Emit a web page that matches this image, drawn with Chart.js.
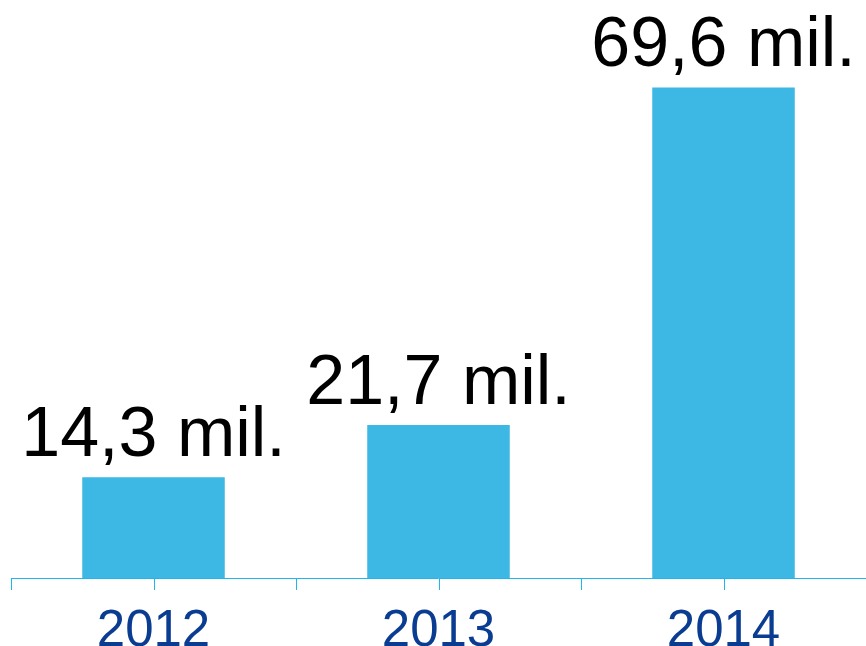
<!DOCTYPE html>
<html>
<head>
<meta charset="utf-8">
<style>
  html, body { margin: 0; padding: 0; background: #fff; }
  #wrap { width: 866px; height: 646px; }
</style>
<script src="https://cdn.jsdelivr.net/npm/chart.js@4"></script>
</head>
<body>
<div id="wrap"><canvas id="grafica" width="866" height="646"></canvas></div>
<script>
// datos
const anios = ['2012', '2013', '2014'];
const valores = [14.3, 21.7, 69.6];
const etiquetas = ['14,3 mil.', '21,7 mil.', '69,6 mil.'];

const AZUL_BARRA = '#3db7e4';
const AZUL_EJE = '#22b4ec';
const FUENTE = "'Liberation Sans', Arial, sans-serif";

// etiquetas encima de cada barra + marcas del eje (limites y centros)
const pluginEtiquetas = {
    id: 'etiquetas',
    afterDatasetsDraw(chart) {
        const ctx = chart.ctx;
        const meta = chart.getDatasetMeta(0);
        ctx.save();
        ctx.font = '70px ' + FUENTE;
        ctx.fillStyle = '#000';
        ctx.textAlign = 'center';
        ctx.textBaseline = 'alphabetic';
        meta.data.forEach(function(bar, i) {
            ctx.fillText(etiquetas[i], bar.x, bar.y - 21);
        });
        ctx.restore();
    },
    afterDraw(chart) {
        const x = chart.scales.x;
        const ctx = chart.ctx;
        ctx.save();
        ctx.strokeStyle = AZUL_EJE;
        ctx.lineWidth = 1;
        // eje
        ctx.beginPath();
        ctx.moveTo(x.left, x.top + 0.5);
        ctx.lineTo(x.right, x.top + 0.5);
        ctx.stroke();
        // marcas: limites (i - 0.5) y centros (i)
        for (let v = -0.5; v <= anios.length - 0.5; v += 0.5) {
            const px = Math.round(x.getPixelForValue(v)) + 0.5;
            ctx.beginPath();
            ctx.moveTo(px, x.top);
            ctx.lineTo(px, x.top + 12);
            ctx.stroke();
        }
        ctx.restore();
    }
};

new Chart(document.getElementById('grafica'), {
    type: 'bar',
    data: {
        labels: anios,
        datasets: [{
            data: valores,
            backgroundColor: AZUL_BARRA,
            borderWidth: 0,
            barPercentage: 1,
            categoryPercentage: 0.5
        }]
    },
    options: {
        responsive: false,
        animation: false,
        devicePixelRatio: 1,
        layout: { padding: { left: 11, right: 0, top: 0, bottom: 0 } },
        plugins: {
            legend: { display: false },
            tooltip: { enabled: false }
        },
        scales: {
            y: {
                display: false,
                min: 0,
                max: 82
            },
            x: {
                afterFit: function(scale) { scale.height = 68; },
                grid: { display: false },
                border: { display: false },
                ticks: {
                    color: '#0a3d92',
                    padding: 15,
                    font: { family: FUENTE, size: 51, lineHeight: 1.2 }
                }
            }
        }
    },
    plugins: [pluginEtiquetas]
});
</script>
</body>
</html>
